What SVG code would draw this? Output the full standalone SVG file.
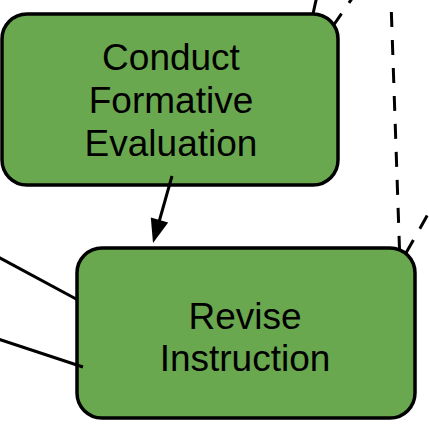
<svg xmlns="http://www.w3.org/2000/svg" width="429" height="427" viewBox="0 0 429 427">
<style>
.box{fill:#6aa84f;stroke:#000;stroke-width:3.5}
.lbl{font-family:"Liberation Sans",Arial,sans-serif;font-size:37px;fill:#000;text-anchor:middle}
.ln{stroke:#000;stroke-width:3;fill:none}
.dash{stroke:#000;stroke-width:3;fill:none;stroke-dasharray:15 13}
</style>
<g id="node-conduct">
<rect class="box" x="2" y="14" width="336" height="171" rx="25" ry="25"/>
<text class="lbl" x="171" y="70">Conduct</text>
<text class="lbl" x="171" y="113">Formative</text>
<text class="lbl" x="171" y="156">Evaluation</text>
</g>
<g id="node-revise">
<rect class="box" x="77" y="248" width="338" height="170" rx="25" ry="25"/>
<text class="lbl" x="245" y="329">Revise</text>
<text class="lbl" x="245" y="371">Instruction</text>
</g>
<g id="connectors">
<line class="ln" x1="313" y1="14" x2="316.5" y2="-2"/>
<line class="dash" x1="333" y1="26" x2="360" y2="-13"/>
<line class="dash" x1="390.4" y1="-16" x2="399.5" y2="249"/>
<line class="dash" x1="406" y1="253" x2="440" y2="193"/>
<line class="ln" x1="-2" y1="257" x2="78" y2="300"/>
<line class="ln" x1="-2" y1="339" x2="83" y2="367"/>
<line class="ln" x1="172" y1="176" x2="159" y2="222"/>
<polygon points="153,243 168.2,222.4 150.8,217.4" fill="#000"/>
</g>
</svg>
